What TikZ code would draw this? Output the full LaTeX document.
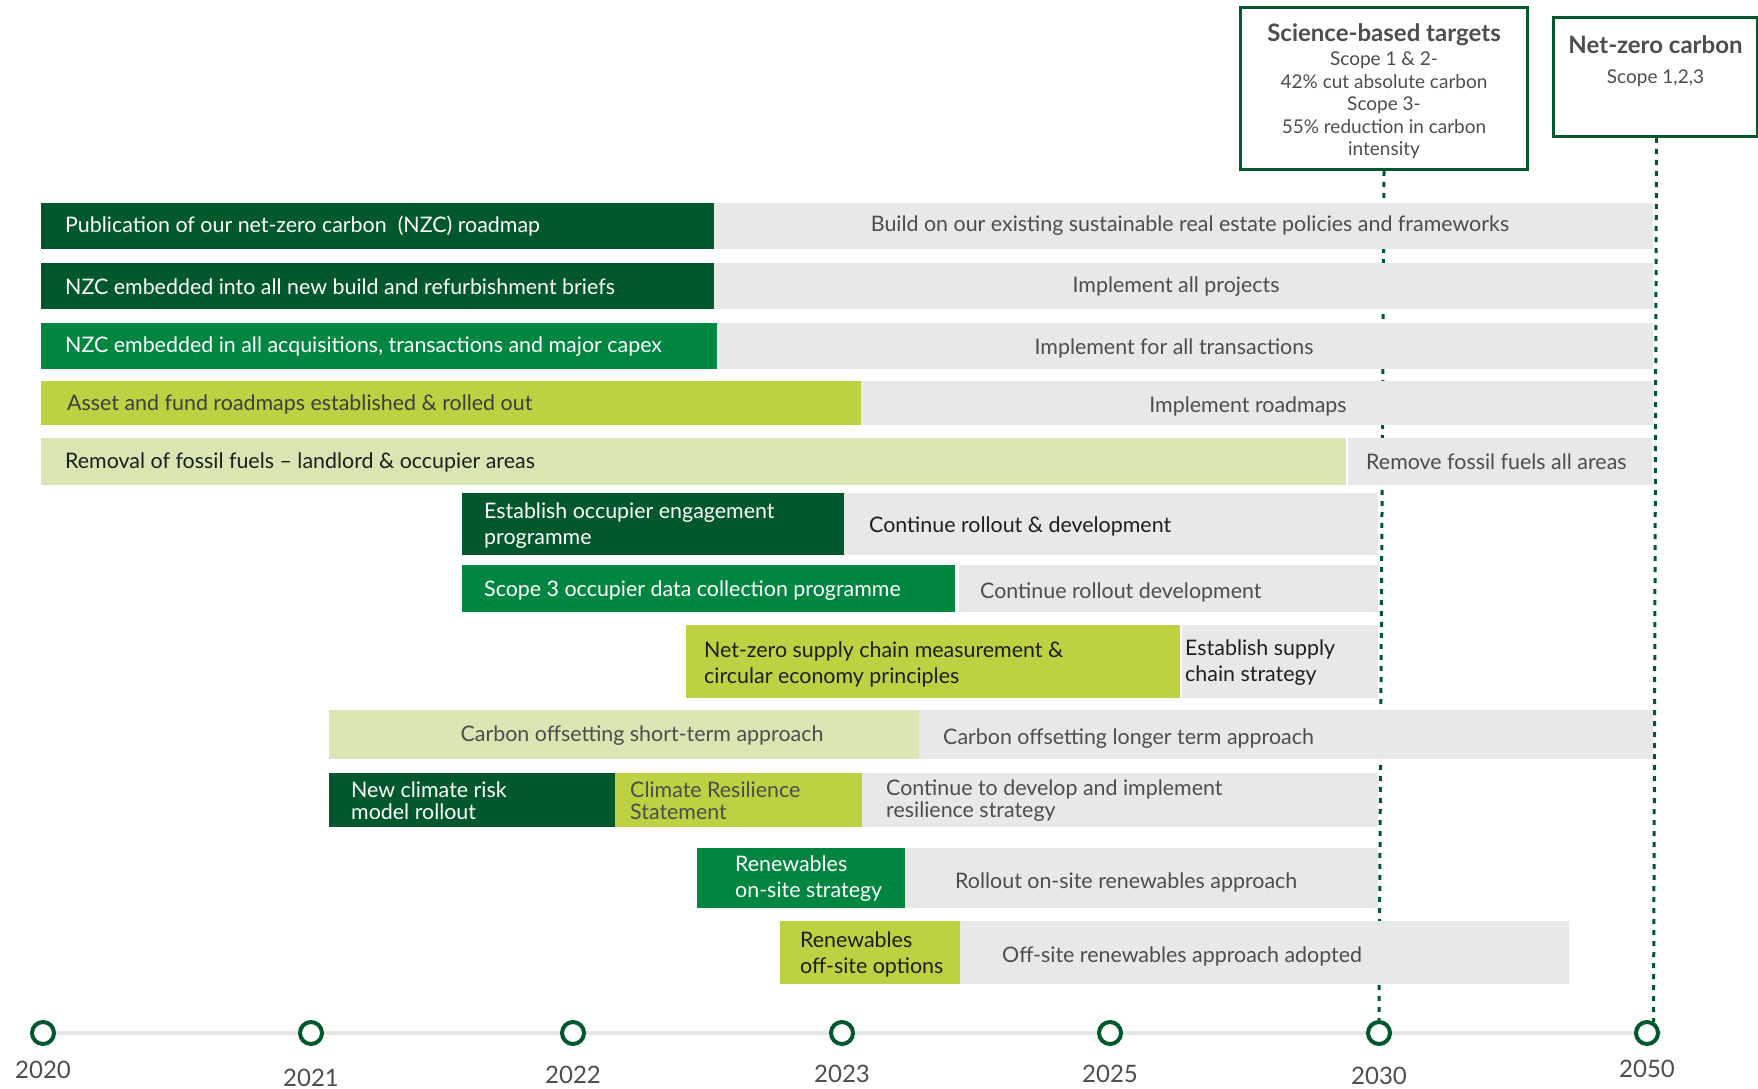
\documentclass[tikz,border=0pt]{standalone}
\usepackage{fontspec}
\setmainfont{Lato}

\definecolor{dkgreen}{HTML}{00582C}
\definecolor{mdgreen}{HTML}{008641}
\definecolor{lime}{HTML}{BDD143}
\definecolor{pale}{HTML}{D9E5B2}
\definecolor{barg}{HTML}{E8E8E8}
\definecolor{axisg}{HTML}{E6E6E6}
\definecolor{txtg}{HTML}{4D4D4D}
\definecolor{txtk}{HTML}{1E1E1E}

\tikzset{
	lbl/.style={anchor=west, inner sep=0pt, align=left, font=\fontsize{21.4}{26}\selectfont},
	tight/.style={font=\fontsize{21.4}{22}\selectfont},
	yr/.style={text=txtg, inner sep=0pt, font=\fontsize{24}{28}\selectfont},
	dot/.style={circle, draw=dkgreen, line width=4pt, fill=white, minimum size=22pt, inner sep=0pt},
	goal/.style={draw=dkgreen, line width=3pt, anchor=north west, inner sep=0pt},
	goaltxt/.style={anchor=north, inner sep=0pt, align=center, text=txtg, font=\fontsize{19}{22.5}\selectfont},
	link/.style={dkgreen, line width=3pt, dash pattern=on 5pt off 6pt}
}

\begin{document}
\begin{tikzpicture}[x=1pt, y=-1pt]
	\useasboundingbox (0,0) rectangle (1758,1089);

	% target boxes
	\node[goal, minimum width=287pt, minimum height=162pt] (sbt) at (1239,6) {};
	\node[goaltxt] (sbttxt) at ([yshift=-17pt]sbt.north) {{\fontsize{24}{28}\selectfont\bfseries Science-based targets}\\[2pt]Scope 1 \& 2-\\42\% cut absolute carbon\\Scope 3-\\55\% reduction in carbon\\intensity};
	\node[goal, minimum width=204pt, minimum height=119pt] (nzc) at (1552,16) {};
	\node[goaltxt] (nzctxt) at ([yshift=-19pt]nzc.north) {{\fontsize{24}{28}\selectfont\bfseries Net-zero carbon}\\[8pt]Scope 1,2,3};

	% time axis
	\coordinate (axL) at (43,1033);
	\coordinate (axR) at (1662,1033);
	\draw[axisg, line width=4pt] (axL) -- (axR);
	\foreach \yr/\x/\ly in {2020/43/1070, 2021/311/1078, 2022/573/1075, 2023/842/1074, 2025/1110/1074, 2030/1379/1076, 2050/1647/1069} {
		\node[dot] (y\yr) at (\x,1033) {};
		\node[yr] (l\yr) at (\x,\ly) {\yr};
	}
	\draw[link] (sbt.south) -- (y2030.north);
	\draw[link] ([xshift=1pt]nzc.south) -- (y2050.60);

	% row 1
	\fill[dkgreen] (41,203) rectangle (714,249);
	\fill[barg] (714,203) rectangle (1653,249);
	\node[lbl, text=white] (pub) at (65,226) {Publication of our net-zero carbon\ \ (NZC) roadmap};
	\node[lbl, anchor=center, text=txtg] (build) at (1190,226) {Build on our existing sustainable real estate policies and frameworks};
	% row 2
	\fill[dkgreen] (41,263) rectangle (714,309);
	\fill[barg] (714,263) rectangle (1653,309);
	\node[lbl, text=white] (brief) at (65,287) {NZC embedded into all new build and refurbishment briefs};
	\node[lbl, anchor=center, text=txtg] (proj) at (1176,287) {Implement all projects};
	% row 3
	\fill[mdgreen] (41,323) rectangle (717,369);
	\fill[barg] (717,323) rectangle (1653,369);
	\node[lbl, text=white] (acq) at (65,347) {NZC embedded in all acquisitions, transactions and major capex};
	\node[lbl, anchor=center, text=txtg] (trans) at (1174,348) {Implement for all transactions};
	% row 4
	\fill[lime] (41,381) rectangle (861,425);
	\fill[barg] (861,381) rectangle (1653,425);
	\node[lbl, text=txtg!80!black] (asset) at (67,404) {Asset and fund roadmaps established \& rolled out};
	\node[lbl, anchor=center, text=txtg] (impl) at (1248,406) {Implement roadmaps};
	% row 5
	\fill[pale] (41,438) rectangle (1346,485);
	\fill[barg] (1348,438) rectangle (1652,485);
	\node[lbl, text=txtk] (fossil) at (65,462) {Removal of fossil fuels – landlord \& occupier areas};
	\node[lbl, text=txtg] (allarea) at (1366,462) {Remove fossil fuels all areas};
	% row 6
	\fill[dkgreen] (462,493) rectangle (844,555);
	\fill[barg] (844,493) rectangle (1378,555);
	\node[lbl, text=white] (engage) at (484,526) {Establish occupier engagement\\programme};
	\node[lbl, text=txtk] (roll1) at (869,526) {Continue rollout \& development};
	% row 7
	\fill[mdgreen] (462,565) rectangle (955,612);
	\fill[barg] (959,565) rectangle (1378,612);
	\node[lbl, text=white] (data) at (484,591) {Scope 3 occupier data collection programme};
	\node[lbl, text=txtg] (roll2) at (980,592) {Continue rollout development};
	% row 8
	\fill[lime] (686,625) rectangle (1180,698);
	\fill[barg] (1182,625) rectangle (1378,698);
	\node[lbl, text=txtk] (supply) at (704,664) {Net-zero supply chain measurement \&\\circular economy principles};
	\node[lbl, text=txtk] (strat) at (1185,663) {Establish supply\\chain strategy};
	% row 9
	\fill[pale] (329,710) rectangle (919,759);
	\fill[barg] (919,710) rectangle (1653,759);
	\node[lbl, anchor=center, text=txtg] (short) at (642,736) {Carbon offsetting short-term approach};
	\node[lbl, text=txtg] (long) at (943,739) {Carbon offsetting longer term approach};
	% row 10
	\fill[dkgreen] (329,773) rectangle (615,827);
	\fill[lime] (615,773) rectangle (862,827);
	\fill[barg] (862,773) rectangle (1378,827);
	\node[lbl, tight, text=white] (risk) at (351,801) {New climate risk\\model rollout};
	\node[lbl, tight, text=txtg] (resil) at (630,801) {Climate Resilience\\Statement};
	\node[lbl, tight, text=txtg] (develop) at (886,801) {Continue to develop and implement\\resilience strategy};
	% row 11
	\fill[mdgreen] (697,848) rectangle (905,908);
	\fill[barg] (905,848) rectangle (1378,908);
	\node[lbl, text=white] (onsite) at (735,879) {Renewables\\on-site strategy};
	\node[lbl, text=txtg] (onroll) at (955,882) {Rollout on-site renewables approach};
	% row 12
	\fill[lime] (780,921) rectangle (960,984);
	\fill[barg] (960,921) rectangle (1569,984);
	\node[lbl, text=txtk] (offsite) at (800,954) {Renewables\\off-site options};
	\node[lbl, text=txtg] (offadopt) at (1002,956) {Off-site renewables approach adopted};
\end{tikzpicture}
\end{document}
